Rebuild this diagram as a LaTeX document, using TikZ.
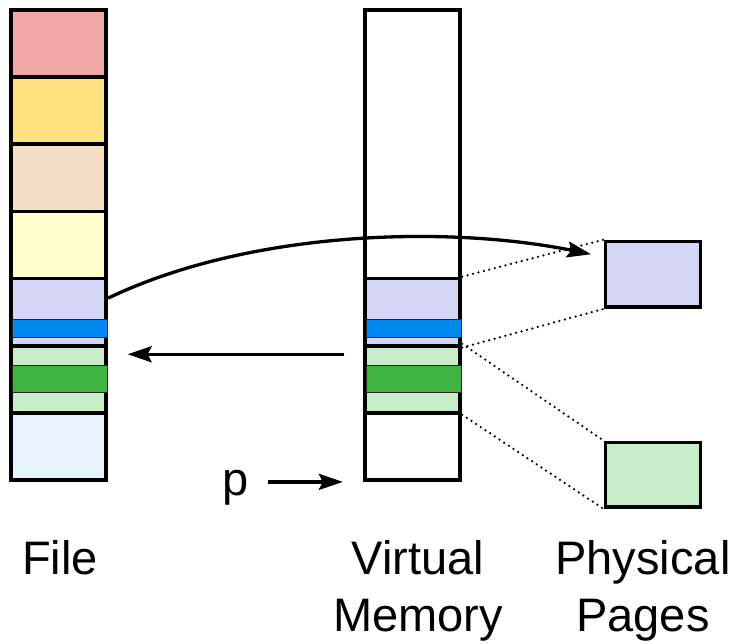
\documentclass[tikz,border=0pt]{standalone}
\usepackage{fontspec}
\setmainfont{Liberation Sans}
\usetikzlibrary{arrows.meta}

\definecolor{fred}{HTML}{F2A7A7}
\definecolor{fyellow}{HTML}{FFDF80}
\definecolor{ftan}{HTML}{F4DEC4}
\definecolor{flight}{HTML}{FFFFCC}
\definecolor{lav}{HTML}{D3D7F5}
\definecolor{fblue}{HTML}{0088F0}
\definecolor{ltgreen}{HTML}{C9ECC9}
\definecolor{dkgreen}{HTML}{40B440}
\definecolor{ltblue}{HTML}{E6F3FD}

\begin{document}
\begin{tikzpicture}[x=1pt, y=1pt, >={Stealth[length=24pt,width=16pt,inset=4pt]},
  cell/.style={draw, line width=3.8pt, inner sep=0pt, minimum width=95.5pt, minimum height=67.14pt},
  strip/.style={draw=black!85, line width=1.2pt, inner sep=0pt, minimum width=95pt},
  page/.style={draw, line width=3.8pt, inner sep=0pt, minimum width=95pt, minimum height=65.5pt},
  link/.style={line width=2.5pt, line cap=round, dash pattern=on 0pt off 5.6pt},
  pointer/.style={->, line width=3.3pt},
  colname/.style={font=\fontsize{47}{57}\selectfont, align=center, anchor=north, inner sep=0pt}]

\useasboundingbox (0,0) rectangle (736,643);

% File column
\foreach \c [count=\i] in {fred, fyellow, ftan, flight, lav, ltgreen, ltblue}
  \node [cell, fill=\c] (file-\i) at (58.5, 633-67.14*\i+33.57) {};

% Virtual memory column
\node [cell, fill=white, minimum height=268.56pt] (vm-1) at (412.5, 498.72) {};
\foreach \c/\i in {lav/5, ltgreen/6, white/7}
  \node [cell, fill=\c] (vm-\i) at (412.5, 633-67.14*\i+33.57) {};

% Mapped strips
\foreach \col in {file, vm} {
  \node [strip, fill=fblue, minimum height=18pt] (\col-blue) at ([xshift=1.2pt, yshift=-16pt]\col-5) {};
  \node [strip, fill=dkgreen, minimum height=27pt] (\col-green) at ([xshift=1.2pt]\col-6) {};
}

% Physical pages
\node [page, fill=lav] (page-1) at (653, 368.75) {};
\node [page, fill=ltgreen, minimum height=64.5pt] (page-2) at (653, 168.25) {};

% Page mappings
\draw [link] (vm-5.north east) -- (page-1.north west);
\draw [link] (vm-5.south east) -- (page-1.south west);
\draw [link] (vm-6.north east) -- (page-2.north west);
\draw [link] (vm-6.south east) -- (page-2.south west);

% Arrows
\draw [pointer] ([yshift=14pt]file-5.east) .. controls +(142,68) and +(-143,29) .. ([xshift=-12.5pt, yshift=20pt]page-1.west);
\draw [pointer, shorten <=18.5pt, shorten >=19.5pt] ([yshift=25pt]vm-6.west) -- ([yshift=25pt]file-6.east);

\node [font=\fontsize{47}{57}\selectfont, anchor=base] (p) at (236, 148) {p};
\coordinate (p-to) at ([xshift=-20pt]vm-7.south west);
\draw [pointer, shorten <=15.5pt] (p.east |- p-to) -- (p-to);

% Column names
\node [colname] (file-name) at (60, 103) {File};
\node [colname] (vm-name) at (418, 103) {Virtual\\Memory};
\node [colname] (page-name) at (643, 103) {Physical\\Pages};

\end{tikzpicture}
\end{document}
